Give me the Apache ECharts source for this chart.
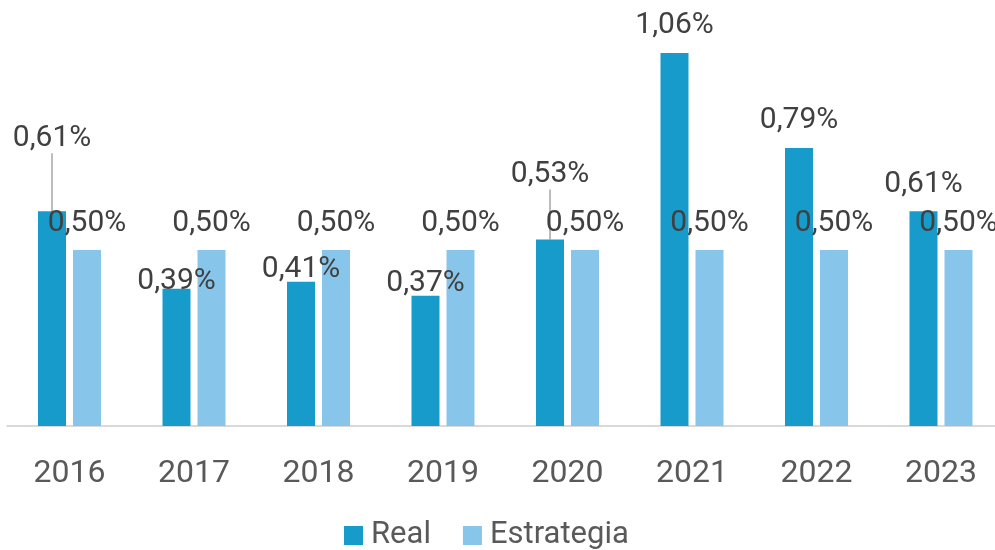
<!DOCTYPE html>
<html>
<head>
<meta charset="utf-8">
<script src="https://cdn.jsdelivr.net/npm/echarts@6/dist/echarts.min.js"></script>
<style>
html,body{margin:0;padding:0;background:#fff;overflow:hidden;}
#chart{width:1004px;height:550px;}
</style>
</head>
<body>
<div id="chart"></div>
<script>
const categories = ['2016','2017','2018','2019','2020','2021','2022','2023'];
const realValues = [0.61, 0.39, 0.41, 0.37, 0.53, 1.06, 0.79, 0.61];
const strategyValues = [0.50, 0.50, 0.50, 0.50, 0.50, 0.50, 0.50, 0.50];
const seriesNames = ['Real', 'Estrategia'];

// manual label nudges (Excel-style placed labels), in px
const realLabelDy = [-46, 20, 15, 15, -38, 0, 0, 0];
const realLeader = [true, false, false, false, true, false, false, false];

const fmt = v => v.toFixed(2).replace('.', ',') + '%';
const FONT = 'Roboto';

const chart = echarts.init(document.getElementById('chart'), null, {renderer: 'canvas'});
chart.setOption({
  animation: false,
  backgroundColor: '#ffffff',
  grid: {left: 7.25, right: 0.75, top: 3.6, bottom: 124, containLabel: false, outerBoundsMode: 'none'},
  legend: {
    data: seriesNames,
    left: 339,
    top: 515,
    itemWidth: 19,
    itemHeight: 19,
    itemGap: 32,
    icon: 'rect',
    textStyle: {fontFamily: FONT, fontSize: 31, color: '#595959', padding: [0, 0, 0, 3]}
  },
  xAxis: {
    type: 'category',
    data: categories,
    axisLine: {lineStyle: {color: '#d9d9d9', width: 2}},
    axisTick: {show: false},
    axisLabel: {fontFamily: FONT, fontSize: 32, color: '#595959', margin: 32}
  },
  yAxis: {
    type: 'value',
    min: 0,
    max: 1.2,
    show: false,
    splitLine: {show: false}
  },
  series: [
    {
      name: seriesNames[0],
      type: 'bar',
      barWidth: 28,
      barGap: '25%',
      itemStyle: {color: '#169bcb'},
      data: realValues.map((v, i) => ({
        value: v,
        labelLine: {show: realLeader[i]}
      })),
      label: {
        show: true,
        position: 'top',
        distance: 12,
        fontFamily: FONT,
        fontSize: 30,
        color: '#404040',
        formatter: p => fmt(p.value)
      },
      labelLine: {lineStyle: {color: '#a6a6a6', width: 1.5}},
      labelLayout: p => ({dy: realLabelDy[p.dataIndex]})
    },
    {
      name: seriesNames[1],
      type: 'bar',
      barWidth: 28,
      barGap: '25%',
      itemStyle: {color: '#88c5eb'},
      data: strategyValues,
      label: {
        show: true,
        position: 'top',
        distance: 12,
        fontFamily: FONT,
        fontSize: 30,
        color: '#404040',
        formatter: p => fmt(p.value)
      }
    }
  ]
});
</script>
</body>
</html>
